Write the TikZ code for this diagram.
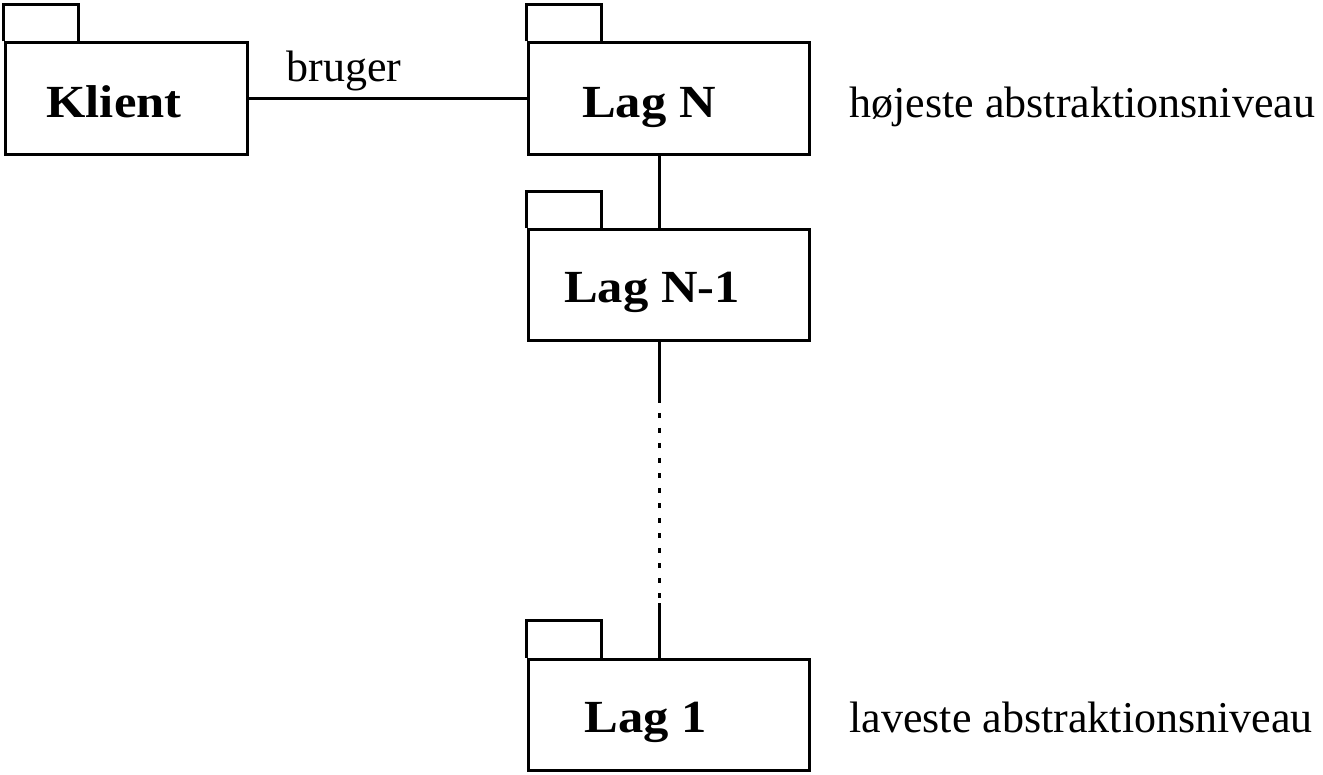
\documentclass[tikz,border=0pt]{standalone}
\usepackage{fontspec}
\setmainfont{Liberation Serif}
\newfontfamily\boxfont{Liberation Serif}[FakeStretch=1.1]
\begin{document}
\begin{tikzpicture}[x=1pt,y=-1pt,line width=3pt,
  pkg/.style={draw,rectangle,minimum height=112pt,inner sep=0pt},
  pkglabel/.style={anchor=base,font=\boxfont\bfseries\fontsize{46}{50}\selectfont},
  plain/.style={font=\fontsize{44}{48}\selectfont,inner sep=0pt}]
\useasboundingbox (0,0) rectangle (1323,775);
% package bodies
\node[pkg,minimum width=242pt] (klient) at (126,99) {};
\node[pkg,minimum width=281pt] (lagN) at (668.5,99) {};
\node[pkg,minimum width=281pt,minimum height=111pt] (lagN1) at (668.5,285.5) {};
\node[pkg,minimum width=281pt,minimum height=111pt] (lag1) at (668.5,714.5) {};
% tabs
\foreach \p in {klient,lagN,lagN1,lag1}{
  \draw (\p.north west) -- ++(0,-37) -- ++(75,0) -- ++(0,37);
}
% labels
\node[pkglabel] (tklient) at (114,118) {Klient};
\node[pkglabel] (tlagN) at (649,118) {Lag N};
\node[pkglabel] (tlagN1) at (652,303) {Lag N-1};
\node[pkglabel] (tlag1) at (646,732) {Lag 1};
\node[plain,anchor=base] (bruger) at (344,82) {bruger};
\node[plain,anchor=base west] (hoj) at (848,118) {højeste abstraktionsniveau};
\node[plain,anchor=base west] (lav) at (848,732) {laveste abstraktionsniveau};
% connectors
\draw (klient.east) -- (lagN.west);
\draw ([xshift=-9.5pt]lagN.south) -- ([xshift=-9.5pt]lagN1.north);
\coordinate (d1) at (659,398);
\coordinate (d2) at (659,603);
\draw ([xshift=-9.5pt]lagN1.south) -- (d1);
\draw[dash pattern=on 5pt off 10pt] (d1) -- (d2);
\draw (d2) -- ([xshift=-9.5pt]lag1.north);
\end{tikzpicture}
\end{document}
